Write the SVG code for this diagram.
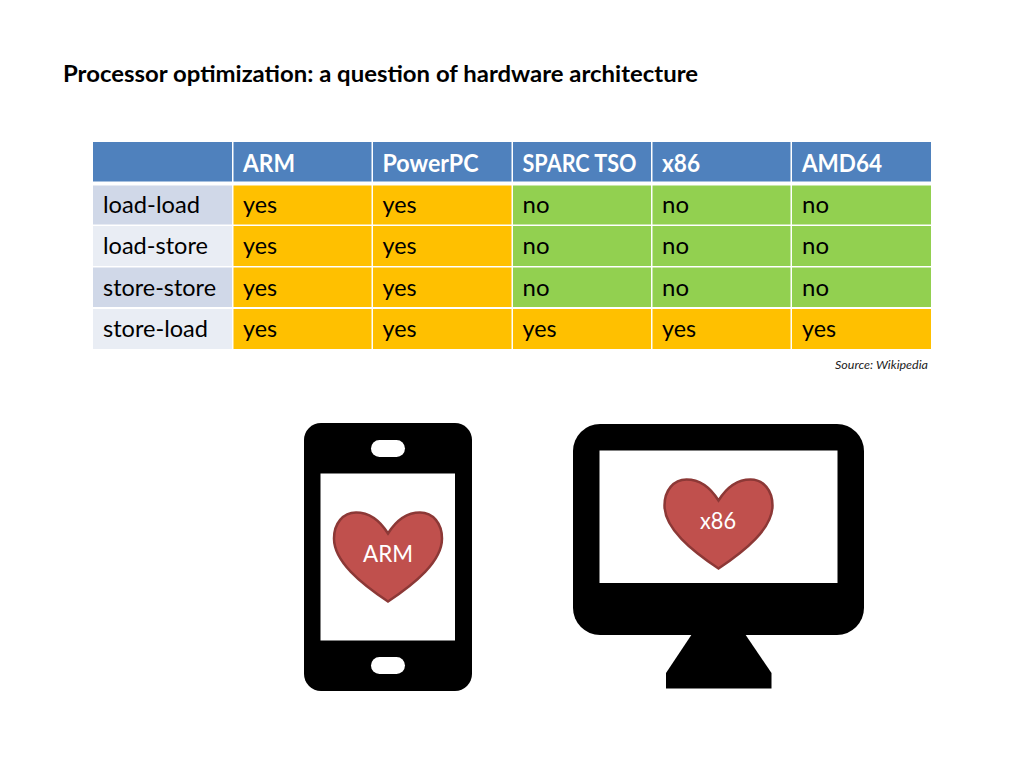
<svg xmlns="http://www.w3.org/2000/svg" width="1024" height="768" viewBox="0 0 1024 768">
<style>
text{font-family:"Lato","Carlito","Liberation Sans",sans-serif;}
.t{font-size:24px;fill:#000;}
.h{font-size:24px;font-weight:700;fill:#fff;}
.hd{fill:#4f81bd;}
.o{fill:#ffc000;}
.g{fill:#92d050;}
.d{fill:#d0d8e8;}
.l{fill:#e9edf4;}
.heart{fill:#c0504d;stroke:#8c3836;stroke-width:2.5;}
.ht{font-size:24px;fill:#fff;text-anchor:middle;}
</style>
<defs>
<path id="heart" d="M0 21C-10 5 -22 0 -32 0C-45 0 -54 11 -54 26C-54 49 -27 71 0 89C27 71 54 49 54 26C54 11 45 0 32 0C22 0 10 5 0 21Z"/>
</defs>
<rect width="1024" height="768" fill="#fff"/>
<text x="63" y="82" font-size="23.5" font-weight="700" fill="#000" textLength="635" lengthAdjust="spacingAndGlyphs">Processor optimization: a question of hardware architecture</text>
<g id="table">
<rect class="hd" x="93" y="142" width="139" height="39.500"/>
<rect class="hd" x="233.500" y="142" width="138" height="39.500"/>
<rect class="hd" x="373" y="142" width="138.500" height="39.500"/>
<rect class="hd" x="513" y="142" width="138" height="39.500"/>
<rect class="hd" x="652.500" y="142" width="138" height="39.500"/>
<rect class="hd" x="792" y="142" width="139" height="39.500"/>
<text class="h" x="243" y="171.500" textLength="52" lengthAdjust="spacingAndGlyphs">ARM</text>
<text class="h" x="382.500" y="171.500" textLength="96" lengthAdjust="spacingAndGlyphs">PowerPC</text>
<text class="h" x="522.500" y="171.500" textLength="114" lengthAdjust="spacingAndGlyphs">SPARC TSO</text>
<text class="h" x="662" y="171.500" textLength="38" lengthAdjust="spacingAndGlyphs">x86</text>
<text class="h" x="802" y="171.500" textLength="80" lengthAdjust="spacingAndGlyphs">AMD64</text>

<rect class="d" x="93" y="185.500" width="139" height="39"/>
<rect class="l" x="93" y="226" width="139" height="40"/>
<rect class="d" x="93" y="267.500" width="139" height="39.500"/>
<rect class="l" x="93" y="309" width="139" height="40"/>
<text class="t" x="103" y="213" textLength="97" lengthAdjust="spacingAndGlyphs">load-load</text>
<text class="t" x="103" y="254" textLength="105" lengthAdjust="spacingAndGlyphs">load-store</text>
<text class="t" x="103" y="296" textLength="113" lengthAdjust="spacingAndGlyphs">store-store</text>
<text class="t" x="103" y="337" textLength="105" lengthAdjust="spacingAndGlyphs">store-load</text>

<rect class="o" x="233.500" y="185.500" width="138" height="39"/>
<rect class="o" x="373" y="185.500" width="138.500" height="39"/>
<rect class="g" x="513" y="185.500" width="138" height="39"/>
<rect class="g" x="652.500" y="185.500" width="138" height="39"/>
<rect class="g" x="792" y="185.500" width="139" height="39"/>
<rect class="o" x="233.500" y="226" width="138" height="40"/>
<rect class="o" x="373" y="226" width="138.500" height="40"/>
<rect class="g" x="513" y="226" width="138" height="40"/>
<rect class="g" x="652.500" y="226" width="138" height="40"/>
<rect class="g" x="792" y="226" width="139" height="40"/>
<rect class="o" x="233.500" y="267.500" width="138" height="39.500"/>
<rect class="o" x="373" y="267.500" width="138.500" height="39.500"/>
<rect class="g" x="513" y="267.500" width="138" height="39.500"/>
<rect class="g" x="652.500" y="267.500" width="138" height="39.500"/>
<rect class="g" x="792" y="267.500" width="139" height="39.500"/>
<rect class="o" x="233.500" y="309" width="138" height="40"/>
<rect class="o" x="373" y="309" width="138.500" height="40"/>
<rect class="o" x="513" y="309" width="138" height="40"/>
<rect class="o" x="652.500" y="309" width="138" height="40"/>
<rect class="o" x="792" y="309" width="139" height="40"/>

<g class="t">
<text class="t" x="243" y="213" textLength="34" lengthAdjust="spacingAndGlyphs">yes</text>
<text class="t" x="382.500" y="213" textLength="34" lengthAdjust="spacingAndGlyphs">yes</text>
<text class="t" x="522.500" y="213" textLength="27" lengthAdjust="spacingAndGlyphs">no</text>
<text class="t" x="662" y="213" textLength="27" lengthAdjust="spacingAndGlyphs">no</text>
<text class="t" x="802" y="213" textLength="27" lengthAdjust="spacingAndGlyphs">no</text>
<text class="t" x="243" y="254" textLength="34" lengthAdjust="spacingAndGlyphs">yes</text>
<text class="t" x="382.500" y="254" textLength="34" lengthAdjust="spacingAndGlyphs">yes</text>
<text class="t" x="522.500" y="254" textLength="27" lengthAdjust="spacingAndGlyphs">no</text>
<text class="t" x="662" y="254" textLength="27" lengthAdjust="spacingAndGlyphs">no</text>
<text class="t" x="802" y="254" textLength="27" lengthAdjust="spacingAndGlyphs">no</text>
<text class="t" x="243" y="296" textLength="34" lengthAdjust="spacingAndGlyphs">yes</text>
<text class="t" x="382.500" y="296" textLength="34" lengthAdjust="spacingAndGlyphs">yes</text>
<text class="t" x="522.500" y="296" textLength="27" lengthAdjust="spacingAndGlyphs">no</text>
<text class="t" x="662" y="296" textLength="27" lengthAdjust="spacingAndGlyphs">no</text>
<text class="t" x="802" y="296" textLength="27" lengthAdjust="spacingAndGlyphs">no</text>
<text class="t" x="243" y="337" textLength="34" lengthAdjust="spacingAndGlyphs">yes</text>
<text class="t" x="382.500" y="337" textLength="34" lengthAdjust="spacingAndGlyphs">yes</text>
<text class="t" x="522.500" y="337" textLength="34" lengthAdjust="spacingAndGlyphs">yes</text>
<text class="t" x="662" y="337" textLength="34" lengthAdjust="spacingAndGlyphs">yes</text>
<text class="t" x="802" y="337" textLength="34" lengthAdjust="spacingAndGlyphs">yes</text>
</g>
</g>
<text x="835" y="369" font-size="12" font-style="italic" fill="#222" textLength="93" lengthAdjust="spacingAndGlyphs">Source: Wikipedia</text>
<g id="phone">
<rect x="304" y="423" width="168" height="268" rx="17" fill="#000"/>
<rect x="320.500" y="473.500" width="134.500" height="167" fill="#fff"/>
<rect x="371" y="440" width="34" height="17" rx="8.500" fill="#fff"/>
<rect x="371" y="657" width="34" height="17" rx="8.500" fill="#fff"/>
<use href="#heart" class="heart" x="388" y="512.500"/>
<text class="ht" x="388" y="562" textLength="50" lengthAdjust="spacingAndGlyphs">ARM</text>
</g>
<g id="monitor">
<rect x="573" y="424" width="291" height="211" rx="27" fill="#000"/>
<path d="M692 634L666 673V688.500H771.500V673L745 634Z" fill="#000"/>
<rect x="599.500" y="450.500" width="238" height="132.500" fill="#fff"/>
<use href="#heart" class="heart" x="718.500" y="479.500"/>
<text class="ht" x="718" y="529" textLength="36" lengthAdjust="spacingAndGlyphs">x86</text>
</g>
</svg>
